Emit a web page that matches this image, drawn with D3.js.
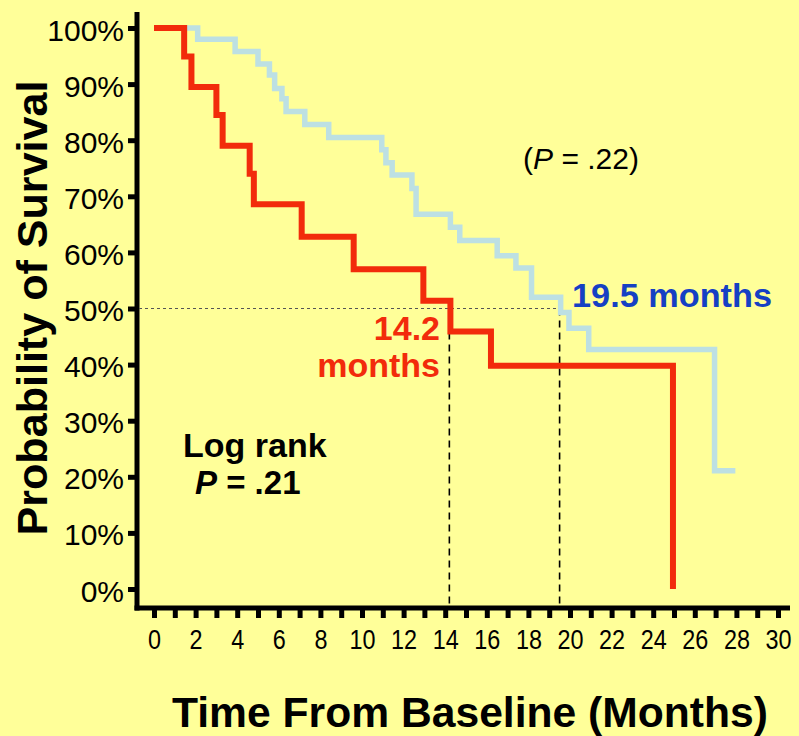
<!DOCTYPE html>
<html><head><meta charset="utf-8">
<script src="https://cdn.jsdelivr.net/npm/d3@7"></script>
<style>html,body{margin:0;padding:0;background:#FFFF99;} svg{display:block}</style>
</head><body><svg id="c" width="799" height="736"></svg>
<script>
// ---- data ----
const xTickValues = d3.range(0, 31, 1);
const xLabelValues = [0,2,4,6,8,10,12,14,16,18,20,22,24,26,28,30];
const yTickValues = [0,10,20,30,40,50,60,70,80,90,100];
const redTimes = [0, 1.45, 1.8, 3.0, 3.3, 4.6, 4.8, 7.1, 9.6, 12.95, 14.25, 16.2, 24.95];
const redSurv  = [100, 94.9, 89.5, 84.5, 79.0, 74.0, 68.6, 62.8, 57.0, 51.4, 45.9, 39.8, 0];
const blueTimes = [0, 2.1, 3.9, 5.0, 5.55, 5.8, 6.15, 6.35, 7.25, 8.4, 10.95, 11.15, 11.45, 12.4, 12.6, 14.25, 14.7, 16.5, 17.4, 18.15, 19.55, 19.95, 20.9, 26.95, 27.95];
const blueSurv  = [100, 98.0, 95.8, 93.6, 91.6, 89.2, 87.4, 85.1, 82.8, 80.5, 78.3, 76.0, 73.8, 71.4, 66.8, 64.5, 62.1, 59.4, 57.2, 52.0, 49.3, 46.5, 42.7, 21.1, 21.1];
const medianRed = 14.2, medianBlue = 19.5, medianLevel = 50;

// ---- layout ----
const W = 799, H = 736;
const BG = "#FFFF99", RED = "#F22B0B", LBLUE = "#BDE0E3", DBLUE = "#1540C4";
const svg = d3.select("#c");
svg.append("rect").attr("width", W).attr("height", H).attr("fill", BG);
const x = d3.scaleLinear().domain([0, 30]).range([154, 778]);
const y = d3.scaleLinear().domain([0, 100]).range([589, 28]);
const axisY = 608, axisX = 137;
const F = "'Liberation Sans', Arial, Helvetica, sans-serif";

// axes lines
svg.append("line").attr("x1", axisX).attr("x2", axisX).attr("y1", 12).attr("y2", axisY + 2.5)
  .attr("stroke", "#000").attr("stroke-width", 5);
svg.append("line").attr("x1", axisX - 2.5).attr("x2", 790).attr("y1", axisY).attr("y2", axisY)
  .attr("stroke", "#000").attr("stroke-width", 5);

// y axis
const gy = svg.append("g").attr("transform", `translate(${axisX},0)`)
  .call(d3.axisLeft(y).tickValues(yTickValues).tickFormat(d => d + "%").tickSize(9).tickPadding(4).tickSizeOuter(0));
gy.select(".domain").remove();
gy.selectAll(".tick line").attr("stroke", "#000").attr("stroke-width", 5);
gy.selectAll(".tick text").attr("font-family", F).attr("font-size", 30).attr("fill", "#000").attr("dy", "0.4em");

// x axis
const gx = svg.append("g").attr("transform", `translate(0,${axisY})`)
  .call(d3.axisBottom(x).tickValues(xTickValues)
    .tickFormat(d => xLabelValues.includes(d) ? d : "").tickSize(10).tickPadding(11).tickSizeOuter(0));
gx.select(".domain").remove();
gx.selectAll(".tick line").attr("stroke", "#000").attr("stroke-width", 5);
gx.selectAll(".tick text").attr("font-family", F).attr("font-size", 28).attr("fill", "#000")
  .each(function() { const t = d3.select(this).text(); if (t) d3.select(this).attr("textLength", t.length * 13).attr("lengthAdjust", "spacingAndGlyphs"); });

// reference lines
svg.append("line").attr("x1", axisX + 2).attr("x2", x(medianBlue)).attr("y1", y(medianLevel)).attr("y2", y(medianLevel))
  .attr("stroke", "#555").attr("stroke-width", 1.2).attr("stroke-dasharray", "3,3");
[medianRed, medianBlue].forEach(m => {
  svg.append("line").attr("x1", x(m)).attr("x2", x(m)).attr("y1", y(medianLevel)).attr("y2", axisY - 2.5)
    .attr("stroke", "#000").attr("stroke-width", 1.6).attr("stroke-dasharray", "7,5");
});

// curves
const line = d3.line().x(d => x(d[0])).y(d => y(d[1])).curve(d3.curveStepAfter);
svg.append("path").datum(d3.zip(blueTimes, blueSurv)).attr("d", line)
  .attr("fill", "none").attr("stroke", LBLUE).attr("stroke-width", 5.5);
svg.append("path").datum(d3.zip(redTimes, redSurv)).attr("d", line)
  .attr("fill", "none").attr("stroke", RED).attr("stroke-width", 6);

// annotations
const t1 = svg.append("text").attr("x", 581).attr("y", 169).attr("text-anchor", "middle")
  .attr("font-family", F).attr("font-size", 30).attr("fill", "#000");
t1.append("tspan").text("(");
t1.append("tspan").attr("font-style", "italic").text("P");
t1.append("tspan").text(" = .22)");

svg.append("text").attr("x", 572).attr("y", 307).attr("font-family", F).attr("font-weight", "bold")
  .attr("font-size", 34).attr("fill", DBLUE).attr("textLength", 200).attr("lengthAdjust", "spacingAndGlyphs").text("19.5 months");
svg.append("text").attr("x", 440).attr("y", 340).attr("text-anchor", "end").attr("font-family", F)
  .attr("font-weight", "bold").attr("font-size", 34).attr("fill", RED).text("14.2");
svg.append("text").attr("x", 440).attr("y", 377).attr("text-anchor", "end").attr("font-family", F)
  .attr("font-weight", "bold").attr("font-size", 34).attr("fill", RED).text("months");

svg.append("text").attr("x", 183).attr("y", 457).attr("font-family", F).attr("font-weight", "bold")
  .attr("font-size", 34).attr("fill", "#000").text("Log rank");
const t2 = svg.append("text").attr("x", 195).attr("y", 494).attr("font-family", F).attr("font-weight", "bold")
  .attr("font-size", 33).attr("fill", "#000");
t2.append("tspan").attr("font-style", "italic").text("P");
t2.append("tspan").text(" = .21");

// axis titles
svg.append("text").attr("transform", `translate(47,308) rotate(-90)`).attr("text-anchor", "middle")
  .attr("font-family", F).attr("font-weight", "bold").attr("font-size", 42).attr("fill", "#000")
  .attr("textLength", 455).attr("lengthAdjust", "spacingAndGlyphs").text("Probability of Survival");
svg.append("text").attr("x", 470).attr("y", 727).attr("text-anchor", "middle")
  .attr("font-family", F).attr("font-weight", "bold").attr("font-size", 42).attr("fill", "#000")
  .attr("textLength", 596).attr("lengthAdjust", "spacingAndGlyphs").text("Time From Baseline (Months)");
</script></body></html>
